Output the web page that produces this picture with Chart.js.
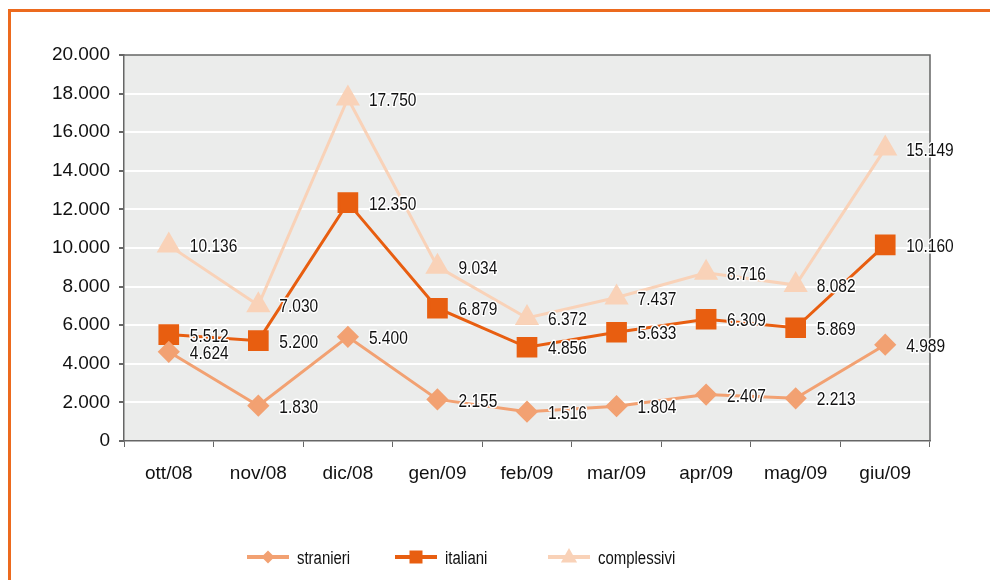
<!DOCTYPE html>
<html>
<head>
<meta charset="utf-8">
<script src="https://cdn.jsdelivr.net/npm/chart.js@4.4.1/dist/chart.umd.min.js"></script>
<style>
    html, body { margin: 0; padding: 0; background: #fff; }
    #wrap { position: relative; width: 990px; height: 580px; overflow: hidden; }
    #frame { position: absolute; left: 8px; top: 9px; width: 1000px; height: 600px;
             border-left: 3px solid #EC6A1E; border-top: 3px solid #EC6A1E; }
    canvas { position: absolute; left: 0; top: 0; }
</style>
</head>
<body>
<div id="wrap">
    <div id="frame"></div>
    <canvas id="chart" width="990" height="580"></canvas>
</div>
<script>
// Data
const months = ['ott/08', 'nov/08', 'dic/08', 'gen/09', 'feb/09', 'mar/09', 'apr/09', 'mag/09', 'giu/09'];
const stranieri = [4624, 1830, 5400, 2155, 1516, 1804, 2407, 2213, 4989];
const italiani = [5512, 5200, 12350, 6879, 4856, 5633, 6309, 5869, 10160];
const complessivi = [10136, 7030, 17750, 9034, 6372, 7437, 8716, 8082, 15149];
const seriesNames = ['stranieri', 'italiani', 'complessivi'];

const colors = ['#F2A172', '#E85E10', '#F9D2B8'];
const sansFont = '"Liberation Sans", Arial, sans-serif';

// 12345 -> "12.345"
function fmt(v) {
    return String(v).replace(/\B(?=(\d{3})+(?!\d))/g, '.');
}

// no narrow font installed: squeeze the regular one horizontally
function narrowText(ctx, txt, x, y, squeeze, halo) {
    ctx.save();
    ctx.translate(x, y);
    ctx.scale(squeeze, 1);
    if (halo) {
        ctx.strokeStyle = '#fff';
        ctx.lineWidth = 3;
        ctx.lineJoin = 'round';
        ctx.strokeText(txt, 0, 0);
    }
    ctx.fillStyle = '#111';
    ctx.fillText(txt, 0, 0);
    ctx.restore();
}

// Gray plot background + top/right border
const plotBg = {
    id: 'plotBg',
    beforeDraw(chart) {
        const { ctx, chartArea: a } = chart;
        ctx.save();
        ctx.fillStyle = '#EBECEB';
        ctx.fillRect(a.left, a.top, a.right - a.left, a.bottom - a.top);
        ctx.restore();
    },
    beforeDatasetsDraw(chart) {
        const { ctx, chartArea: a } = chart;
        ctx.save();
        ctx.strokeStyle = '#666';
        ctx.lineWidth = 1.5;
        ctx.beginPath();
        ctx.moveTo(a.left, a.top);
        ctx.lineTo(a.right, a.top);
        ctx.lineTo(a.right, a.bottom);
        ctx.stroke();
        ctx.restore();
    }
};

// Value labels to the right of each point, with white halo
const valueLabels = {
    id: 'valueLabels',
    afterDatasetsDraw(chart) {
        const ctx = chart.ctx;
        ctx.save();
        ctx.font = '18.5px ' + sansFont;
        ctx.textAlign = 'left';
        ctx.textBaseline = 'middle';
        chart.data.datasets.forEach((ds, i) => {
            const meta = chart.getDatasetMeta(i);
            meta.data.forEach((pt, j) => {
                narrowText(ctx, fmt(ds.data[j]), pt.x + 21, pt.y + 2, 0.84, true);
            });
        });
        ctx.restore();
    }
};

function drawMarker(ctx, style, x, y, r) {
    ctx.beginPath();
    if (style === 'rect') {
        ctx.rect(x - r, y - r, 2 * r, 2 * r);
    } else if (style === 'rectRot') {
        ctx.moveTo(x, y - r); ctx.lineTo(x + r, y); ctx.lineTo(x, y + r); ctx.lineTo(x - r, y);
        ctx.closePath();
    } else {
        ctx.moveTo(x, y - r); ctx.lineTo(x + r * 0.9, y + r * 0.6); ctx.lineTo(x - r * 0.9, y + r * 0.6);
        ctx.closePath();
    }
    ctx.fill();
}

// Legend row along the bottom (line + marker + name)
const legendRow = {
    id: 'legendRow',
    afterDraw(chart) {
        const ctx = chart.ctx;
        const y = 557;
        const starts = [247, 395, 548];
        const sizes = [6.5, 6.5, 9];
        ctx.save();
        chart.data.datasets.forEach((ds, i) => {
            const x0 = starts[i];
            ctx.strokeStyle = ds.borderColor;
            ctx.fillStyle = ds.borderColor;
            ctx.lineWidth = 4;
            ctx.beginPath();
            ctx.moveTo(x0, y);
            ctx.lineTo(x0 + 42, y);
            ctx.stroke();
            drawMarker(ctx, ds.pointStyle, x0 + 21, y, sizes[i]);
            ctx.font = '18px ' + sansFont;
            ctx.textAlign = 'left';
            ctx.textBaseline = 'middle';
            narrowText(ctx, ds.label, x0 + 50, y + 2, 0.83, false);
        });
        ctx.restore();
    }
};

const ctx = document.getElementById('chart').getContext('2d');
new Chart(ctx, {
    type: 'line',
    data: {
        labels: months,
        datasets: [
            { label: seriesNames[0], data: stranieri, borderColor: colors[0], backgroundColor: colors[0],
              pointStyle: 'rectRot', pointRadius: 9, pointHoverRadius: 9, borderWidth: 3 },
            { label: seriesNames[1], data: italiani, borderColor: colors[1], backgroundColor: colors[1],
              pointStyle: 'rect', pointRadius: 12.5, pointHoverRadius: 12.5, borderWidth: 3 },
            { label: seriesNames[2], data: complessivi, borderColor: colors[2], backgroundColor: colors[2],
              pointStyle: 'triangle', pointRadius: 11, pointHoverRadius: 11, borderWidth: 3 }
        ]
    },
    options: {
        responsive: false,
        animation: false,
        events: [],
        layout: { padding: { left: 0, top: 55, right: 60, bottom: 89 } },
        plugins: {
            legend: { display: false },
            tooltip: { enabled: false }
        },
        elements: {
            line: { tension: 0 },
            point: { borderWidth: 0 }
        },
        scales: {
            x: {
                offset: true,
                afterFit: s => { s.height = 50; },
                grid: { offset: true, drawOnChartArea: false, drawTicks: true, tickLength: 6, tickColor: '#666' },
                border: { display: true, color: '#666', width: 1.5 },
                ticks: { color: '#111', padding: 15, maxRotation: 0,
                         font: { family: sansFont, size: 19 } }
            },
            y: {
                min: 0,
                max: 20000,
                afterFit: s => { s.width = 124; },
                grid: {
                    color: c => (c.tick && (c.tick.value === 0 || c.tick.value === 20000)) ? 'rgba(0,0,0,0)' : '#fff',
                    lineWidth: 2,
                    tickLength: 5,
                    tickColor: '#666'
                },
                border: { display: true, color: '#666', width: 1.5 },
                ticks: { stepSize: 2000, color: '#111', padding: 9,
                         font: { family: sansFont, size: 19 },
                         callback: v => fmt(v) }
            }
        }
    },
    plugins: [plotBg, valueLabels, legendRow]
});
</script>
</body>
</html>
